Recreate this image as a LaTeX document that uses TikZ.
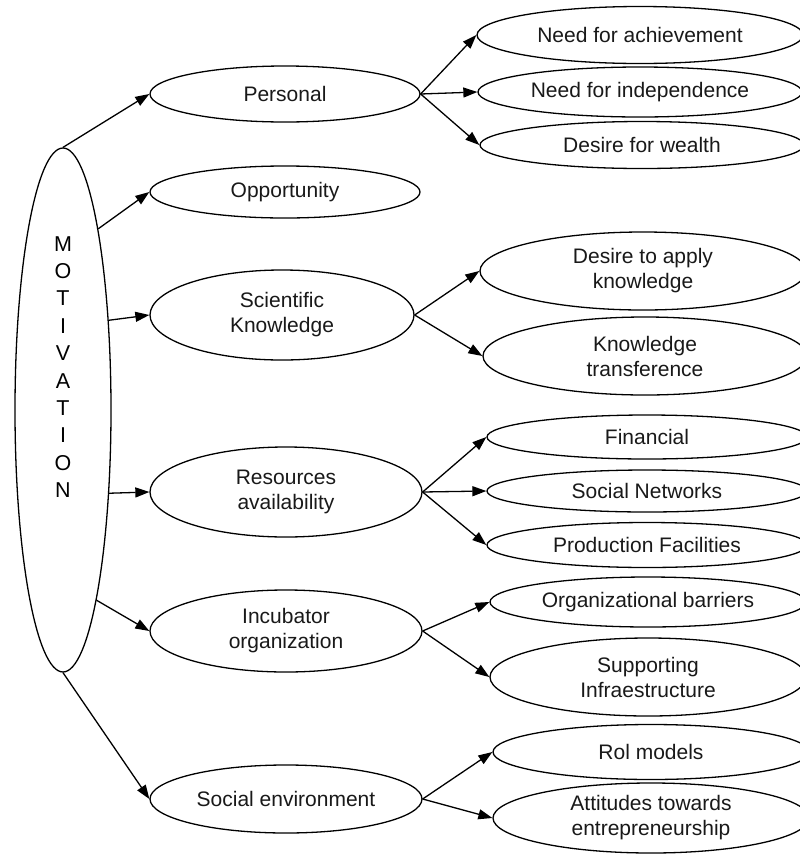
\documentclass[tikz,border=0pt]{standalone}
\usepackage{fontspec}
\setmainfont{Liberation Sans}
\usetikzlibrary{shapes.geometric,arrows.meta}
\begin{document}
\begin{tikzpicture}[x=1pt,y=-1pt,
  oval/.style={draw, ellipse, inner sep=0pt, line width=1.3pt, align=center,
    font=\fontsize{21}{25}\selectfont, text=black!90},
  link/.style={line width=1.3pt, -{Triangle[length=14pt,width=10pt]}}]
\clip (0,0) rectangle (800,855);
\fill[white] (0,0) rectangle (800,855);

% root
\node[oval, minimum width=96pt, minimum height=524pt] (mot) at (63,410) {};
\node[align=center, inner sep=0pt, font=\fontsize{21.5}{27.4}\selectfont] (motlabel) at (63,367)
  {M\\O\\T\\I\\V\\A\\T\\I\\O\\N};

% first level
\node[oval, minimum width=270pt, minimum height=56pt] (personal) at (285,94) {Personal};
\node[oval, minimum width=270pt, minimum height=52pt] (opp) at (285,192) {Opportunity};
\node[oval, minimum width=264pt, minimum height=90pt] (sci) at (282,315) {Scientific\\Knowledge};
\node[oval, minimum width=272pt, minimum height=90pt] (res) at (286,492) {Resources\\availability};
\node[oval, minimum width=272pt, minimum height=82pt] (inc) at (286,631) {Incubator\\organization};
\node[oval, minimum width=272pt, minimum height=68pt] (soc) at (286,799) {Social environment};

% second level
\node[oval, minimum width=326pt, minimum height=57pt] (nfa) at (640,35) {Need for achievement};
\node[oval, minimum width=324pt, minimum height=50pt] (nfi) at (640,92) {Need for independence};
\node[oval, minimum width=324pt, minimum height=47pt] (dfw) at (642,145) {Desire for wealth};
\node[oval, minimum width=326pt, minimum height=78pt] (dak) at (643,271) {Desire to apply\\knowledge};
\node[oval, minimum width=324pt, minimum height=78pt] (kt) at (645,356) {Knowledge\\transference};
\node[oval, minimum width=320pt, minimum height=44pt] (fin) at (647,437) {Financial};
\node[oval, minimum width=320pt, minimum height=42pt] (sn) at (647,491) {Social Networks};
\node[oval, minimum width=320pt, minimum height=45pt] (pf) at (647,545) {Production Facilities};
\node[oval, minimum width=316pt, minimum height=50pt] (ob) at (648,602) {Organizational barriers};
\node[oval, minimum width=316pt, minimum height=78pt] (si) at (648,677) {Supporting\\Infraestructure};
\node[oval, minimum width=316pt, minimum height=55pt] (rm) at (651,752) {Rol models};
\node[oval, minimum width=316pt, minimum height=70pt] (att) at (651,818) {Attitudes towards\\entrepreneurship};

% root to first level
\draw[link] (mot.north) -- (personal.west);
\draw[link] (mot.79) -- (opp.west);
\draw[link] (mot.63) -- (sci.west);
\draw[link] (mot.-61) -- (res.west);
\draw[link] (mot.-80) -- (inc.west);
\draw[link] (mot.south) -- (soc.west);

% first level to second level
\draw[link] (personal.east) -- (nfa.west);
\draw[link] (personal.east) -- (nfi.west);
\draw[link] (personal.east) -- (dfw.west);
\draw[link] (sci.east) -- (dak.west);
\draw[link] (sci.east) -- (kt.west);
\draw[link] (res.east) -- (fin.west);
\draw[link] (res.east) -- (sn.west);
\draw[link] (res.east) -- (pf.west);
\draw[link] (inc.east) -- (ob.west);
\draw[link] (inc.east) -- (si.west);
\draw[link] (soc.east) -- (rm.west);
\draw[link] (soc.east) -- (att.west);
\end{tikzpicture}
\end{document}
